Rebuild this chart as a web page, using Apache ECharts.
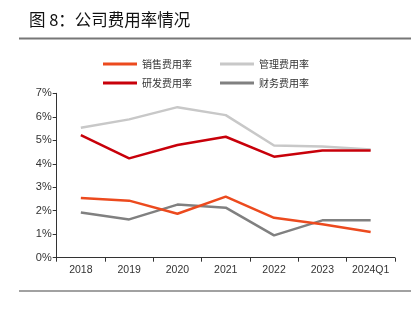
<!DOCTYPE html>
<html><head><meta charset="utf-8">
<script src="https://cdn.jsdelivr.net/npm/echarts@6/dist/echarts.min.js"></script>
<style>html,body{margin:0;padding:0;background:#fff;}#c{width:415px;height:323px;}</style>
</head><body><div id="c"></div>
<script>
var categories = ['2018','2019','2020','2021','2022','2023','2024Q1'];
var sales = [2.54, 2.43, 1.87, 2.60, 1.70, 1.42, 1.09];
var admin = [5.53, 5.89, 6.41, 6.07, 4.78, 4.73, 4.61];
var rnd = [5.22, 4.23, 4.80, 5.15, 4.30, 4.56, 4.56];
var fin = [1.92, 1.63, 2.26, 2.13, 0.95, 1.59, 1.59];
var yTicks = [0,1,2,3,4,5,6,7];

var chart = echarts.init(document.getElementById('c'), null, {renderer:'canvas'});
function ser(name, data, color){
  return {name:name, type:'line', data:data, symbol:'none', smooth:false,
    lineStyle:{color:color, width:2.5}, itemStyle:{color:color}};
}
var legText = {fontFamily:'"Noto Sans CJK SC"', fontSize:10, color:'#333'};
chart.setOption({
  animation:false,
  graphic:[
    {type:'text', left:29, top:11, style:{text:'图 8：公司费用率情况', font:'16.5px "Noto Sans CJK SC"', fill:'#111'}},
    {type:'rect', shape:{x:19, y:37.5, width:392, height:2}, style:{fill:'#777'}},
    {type:'rect', shape:{x:19, y:290.5, width:392, height:1}, style:{fill:'#444'}}
  ],
  legend:[
    {data:['销售费用率','管理费用率'], left:103, top:59, icon:'rect', itemWidth:34, itemHeight:3, itemGap:28, textStyle:legText, padding:0},
    {data:['研发费用率','财务费用率'], left:103, top:78, icon:'rect', itemWidth:34, itemHeight:3, itemGap:28, textStyle:legText, padding:0}
  ],
  grid:{left:56.7, right:20.2, top:93.3, bottom:65.3, containLabel:false},
  xAxis:{type:'category', data:categories, boundaryGap:true,
    axisLine:{lineStyle:{color:'#333', width:1}},
    axisTick:{show:true, alignWithLabel:false, interval:0, length:4, lineStyle:{color:'#333'}},
    axisLabel:{color:'#333', fontFamily:'Liberation Sans, Arial', fontSize:10.5, margin:7, interval:0}},
  yAxis:{type:'value', min:0, max:7, interval:1,
    axisLine:{show:true, lineStyle:{color:'#333', width:1}},
    axisTick:{show:true, inside:false, length:4, lineStyle:{color:'#333'}},
    splitLine:{show:false},
    axisLabel:{color:'#333', fontFamily:'Liberation Sans, Arial', fontSize:11, margin:5,
      formatter:function(v){return yTicks.indexOf(v)>=0 ? v+'%' : '';}}},
  series:[
    ser('管理费用率', admin, '#C8C8C8'),
    ser('财务费用率', fin, '#808080'),
    ser('销售费用率', sales, '#EC4A1E'),
    ser('研发费用率', rnd, '#C8000A')
  ]
});
</script></body></html>
